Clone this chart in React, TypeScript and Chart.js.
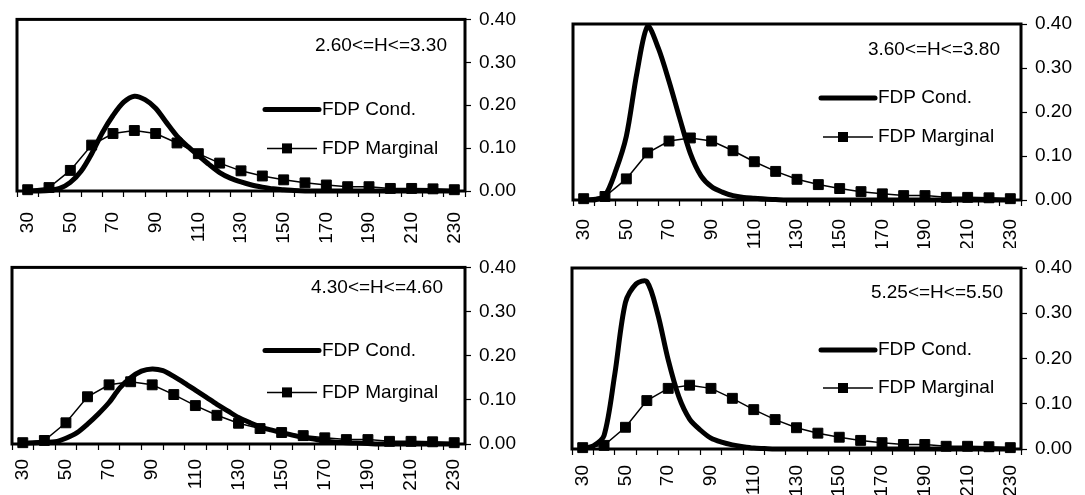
import React, { useEffect, useRef } from 'react';
import { Chart, registerables } from 'chart.js';

Chart.register(...registerables);

// ---------- DATA ----------
const categories = [30, 40, 50, 60, 70, 80, 90, 100, 110, 120, 130, 140, 150, 160, 170, 180, 190, 200, 210, 220, 230];
const fineX = [30, 35, 40, 45, 50, 55, 60, 65, 70, 75, 80, 85, 90, 95, 100, 105, 110, 115, 120, 125, 130, 135, 140, 145, 150, 155, 160, 165, 170, 175, 180, 185, 190, 195, 200, 205, 210, 215, 220, 225, 230];
const xTickLabels = ['30', '50', '70', '90', '110', '130', '150', '170', '190', '210', '230'];

const marginal = [0.003, 0.008, 0.048, 0.107, 0.134, 0.141, 0.134, 0.112, 0.087, 0.065, 0.047, 0.035, 0.026, 0.019, 0.014, 0.010, 0.010, 0.006, 0.006, 0.005, 0.003];

const condA = [0, 0, 0.001, 0.006, 0.02, 0.046, 0.087, 0.136, 0.176, 0.207, 0.221, 0.213, 0.193, 0.16, 0.128, 0.104, 0.083, 0.062, 0.043, 0.03, 0.021, 0.014, 0.009, 0.005, 0.003, 0.001, 0, 0, 0, 0, 0, 0, 0, 0, 0, 0, 0, 0, 0, 0, 0];
const condB = [0, 0, 0.01, 0.066, 0.145, 0.29, 0.395, 0.345, 0.27, 0.186, 0.106, 0.055, 0.03, 0.018, 0.01, 0.006, 0.004, 0.002, 0.001, 0, 0, 0, 0, 0, 0, 0, 0, 0, 0, 0, 0, 0, 0, 0, 0, 0, 0, 0, 0, 0, 0];
const condC = [0.002, 0.003, 0.004, 0.005, 0.013, 0.025, 0.045, 0.068, 0.094, 0.127, 0.15, 0.165, 0.17, 0.166, 0.153, 0.138, 0.122, 0.106, 0.09, 0.075, 0.06, 0.049, 0.039, 0.032, 0.026, 0.02, 0.015, 0.011, 0.007, 0.004, 0.003, 0.002, 0.001, 0, 0, 0, 0, 0, 0, 0, 0];
const condD = [0.001, 0.007, 0.03, 0.165, 0.324, 0.365, 0.37, 0.3, 0.197, 0.115, 0.066, 0.042, 0.024, 0.015, 0.009, 0.005, 0.002, 0.001, 0, 0, 0, 0, 0, 0, 0, 0, 0, 0, 0, 0, 0, 0, 0, 0, 0, 0, 0, 0, 0, 0, 0];

const rangeLabels = ['2.60<=H<=3.30', '3.60<=H<=3.80', '4.30<=H<=4.60', '5.25<=H<=5.50'];
const seriesNames = ['FDP Cond.', 'FDP Marginal'];
const condSeries = [condA, condB, condC, condD];

// ---------- LAYOUT (page coordinates) ----------
const PANELS = [
  { canvas: { x: 0, y: 0, w: 548, h: 248 }, box: { l: 17, t: 17, r: 465, b: 191 }, ann: { dx: 18, dy: 26 }, rows: [90, 129], labelPad: 15 },
  { canvas: { x: 548, y: 0, w: 537, h: 248 }, box: { l: 573, t: 24, r: 1021, b: 200 }, ann: { dx: 21, dy: 26 }, rows: [74, 113], labelPad: 13 },
  { canvas: { x: 0, y: 248, w: 548, h: 247 }, box: { l: 12, t: 263, r: 465, b: 444 }, ann: { dx: 22, dy: 20 }, rows: [83, 125], labelPad: 9 },
  { canvas: { x: 548, y: 248, w: 537, h: 247 }, box: { l: 572, t: 268, r: 1021, b: 449 }, ann: { dx: 18, dy: 25 }, rows: [82, 120], labelPad: 10 },
];

const FONT_FAMILY = '"Liberation Sans", Arial, Helvetica, sans-serif';
const FONT_SIZE = 19;

function Panel({ idx }: { idx: number }) {
  const ref = useRef<HTMLCanvasElement | null>(null);
  const p = PANELS[idx];

  useEffect(() => {
    if (!ref.current) return;
    const YW = p.canvas.x + p.canvas.w - p.box.r;
    const XH = p.canvas.y + p.canvas.h - p.box.b;
    const padding = {
      left: p.box.l - p.canvas.x,
      top: p.box.t - p.canvas.y,
      right: 0,
      bottom: 0,
    };

    const framePlugin = {
      id: 'frame' + idx,
      beforeDatasetsDraw(chart: any) {
        const { left, top, right, bottom } = chart.chartArea;
        const ctx = chart.ctx;
        ctx.save();
        ctx.lineWidth = 3;
        ctx.strokeStyle = '#000';
        ctx.strokeRect(left, top, right - left, bottom - top);
        ctx.restore();
      },
      afterDraw(chart: any) {
        const { top, right } = chart.chartArea;
        const ctx = chart.ctx;
        ctx.save();
        ctx.fillStyle = '#000';
        ctx.strokeStyle = '#000';
        ctx.font = `${FONT_SIZE}px ${FONT_FAMILY}`;
        ctx.textBaseline = 'middle';
        // range annotation
        ctx.textAlign = 'right';
        ctx.fillText(rangeLabels[idx], right - p.ann.dx, top + p.ann.dy);
        // legend row 1
        const y1 = top + p.rows[0];
        ctx.lineWidth = 5;
        ctx.lineCap = 'round';
        ctx.beginPath();
        ctx.moveTo(right - 200, y1);
        ctx.lineTo(right - 146, y1);
        ctx.stroke();
        ctx.textAlign = 'left';
        ctx.fillText(seriesNames[0], right - 143, y1);
        // legend row 2
        const y2 = top + p.rows[1];
        ctx.lineWidth = 1.5;
        ctx.lineCap = 'butt';
        ctx.beginPath();
        ctx.moveTo(right - 198, y2);
        ctx.lineTo(right - 148, y2);
        ctx.stroke();
        ctx.fillRect(right - 178 - 5, y2 - 5, 10, 10);
        ctx.fillText(seriesNames[1], right - 143, y2);
        ctx.restore();
      },
    };

    const chart = new Chart(ref.current, {
      type: 'line',
      data: {
        datasets: [
          {
            label: seriesNames[0],
            data: fineX.map((x, i) => ({ x, y: condSeries[idx][i] })),
            borderColor: '#000',
            backgroundColor: '#000',
            borderWidth: 5,
            pointRadius: 0,
            tension: 0.3,
            clip: false,
            borderJoinStyle: 'round',
            borderCapStyle: 'round',
          } as any,
          {
            label: seriesNames[1],
            data: categories.map((x, i) => ({ x, y: marginal[i] })),
            borderColor: '#000',
            backgroundColor: '#000',
            borderWidth: 1.5,
            pointStyle: 'rect',
            pointRadius: 7,
            pointBorderWidth: 1,
            tension: 0,
            clip: false,
          } as any,
        ],
      },
      options: {
        animation: false,
        responsive: false,
        devicePixelRatio: 1,
        layout: { padding },
        plugins: { legend: { display: false }, tooltip: { enabled: false } },
        scales: {
          x: {
            type: 'linear',
            min: 25,
            max: 235,
            afterFit(scale: any) { scale.height = XH; },
            border: { display: false },
            grid: {
              display: true,
              drawOnChartArea: false,
              drawTicks: true,
              tickLength: 6,
              tickWidth: 1.2,
              tickColor: (ctx: any) => (ctx.tick && Math.round(ctx.tick.value) % 10 === 5 ? '#000' : 'rgba(0,0,0,0)'),
            },
            ticks: {
              stepSize: 5,
              autoSkip: false,
              minRotation: 90,
              maxRotation: 90,
              padding: p.labelPad,
              color: '#000',
              font: { family: FONT_FAMILY, size: FONT_SIZE },
              callback: (v: any) => (xTickLabels.includes(String(v)) ? String(v) : ''),
            },
          },
          y: {
            position: 'right',
            min: 0,
            max: 0.4,
            afterFit(scale: any) { scale.width = YW; },
            border: { display: false },
            grid: {
              display: true,
              drawOnChartArea: false,
              drawTicks: true,
              tickLength: 6,
              tickWidth: 1.2,
              tickColor: '#000',
            },
            ticks: {
              stepSize: 0.1,
              padding: 8,
              color: '#000',
              font: { family: FONT_FAMILY, size: FONT_SIZE },
              callback: (v: any) => Number(v).toFixed(2),
            },
          },
        },
      },
      plugins: [framePlugin],
    } as any);
    return () => chart.destroy();
  }, [idx]);

  return (
    <div style={{ position: 'absolute', left: p.canvas.x, top: p.canvas.y, width: p.canvas.w, height: p.canvas.h }}>
      <canvas ref={ref} width={p.canvas.w} height={p.canvas.h} style={{ display: 'block' }} />
    </div>
  );
}

export default function App() {
  return (
    <div style={{ position: 'absolute', left: 0, top: 0, width: 1085, height: 495, background: '#fff', overflow: 'hidden' }}>
      {PANELS.map((_, i) => (
        <Panel key={i} idx={i} />
      ))}
    </div>
  );
}
